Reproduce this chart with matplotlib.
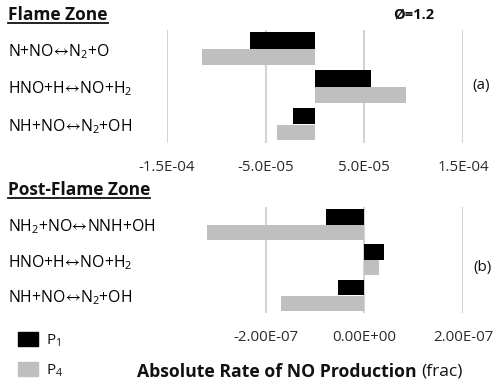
import matplotlib
matplotlib.use("Agg")
import matplotlib.pyplot as plt
from matplotlib.lines import Line2D
from matplotlib.patches import Patch

plt.rcParams['font.family'] = ['Open Sans', 'DejaVu Sans']
plt.rcParams['mathtext.fontset'] = 'custom'
plt.rcParams['mathtext.rm'] = 'Open Sans'
plt.rcParams['mathtext.it'] = 'Open Sans'
plt.rcParams['mathtext.bf'] = 'Open Sans:bold'
plt.rcParams['mathtext.fallback'] = 'stixsans'
plt.rcParams['text.color'] = '#111111'

# two-way arrow with the relation spacing trimmed
ARR = r'$\!\leftrightarrow\!$'

# flame zone (a)
flame_rxns = ['N+NO' + ARR + 'N$_2$+O', 'HNO+H' + ARR + 'NO+H$_2$', 'NH+NO' + ARR + 'N$_2$+OH']
flame_p1 = [-6.6e-5, 5.7e-5, -2.2e-5]
flame_p4 = [-1.15e-4, 9.2e-5, -3.9e-5]
flame_ticks = [-1.5e-4, -5e-5, 5e-5, 1.5e-4]
flame_ticklabels = ['-1.5E-04', '-5.0E-05', '5.0E-05', '1.5E-04']

# post-flame zone (b)
post_rxns = ['NH$_2$+NO' + ARR + 'NNH+OH', 'HNO+H' + ARR + 'NO+H$_2$', 'NH+NO' + ARR + 'N$_2$+OH']
post_p1 = [-7.8e-8, 4.0e-8, -5.4e-8]
post_p4 = [-3.18e-7, 3.0e-8, -1.69e-7]
post_ticks = [-2e-7, 0, 2e-7]
post_ticklabels = ['-2.00E-07', '0.00E+00', '2.00E-07']

BLACK = '#000000'
GREY = '#bfbfbf'
W = 500.0
H = 389.0

fig = plt.figure(figsize=(5.0, 3.89), dpi=100)
fig.patch.set_facecolor('white')


def panel(rect, rxns, p1, p4, ticks, ticklabels, xlim):
    ax = fig.add_axes(rect)
    ys = list(range(len(rxns)))
    ax.barh([y - 0.22 for y in ys], p1, height=0.44, color=BLACK, zorder=3)
    ax.barh([y + 0.22 for y in ys], p4, height=0.42, color=GREY, zorder=3)
    ax.set_xlim(*xlim)
    ax.set_ylim(2.5, -0.5)
    ax.set_xticks(ticks)
    ax.set_xticklabels(ticklabels, fontsize=10.8, color='#2a2a2a')
    ax.tick_params(axis='x', length=0, pad=12)
    ax.set_yticks(ys)
    ax.set_yticklabels(rxns, fontsize=11.3, ha='left')
    ax.tick_params(axis='y', length=0, pad=(rect[0] * W - 8) * 0.72)
    for s in ax.spines.values():
        s.set_visible(False)
    ax.grid(axis='x', color='#d4d4d4', linewidth=1.5, zorder=0)
    ax.set_axisbelow(True)
    return ax


ax_a = panel([167 / W, 1 - 143 / H, 296 / W, 113 / H],
             flame_rxns, flame_p1, flame_p4, flame_ticks, flame_ticklabels,
             (-1.5e-4, 1.5e-4))
ax_b = panel([167 / W, 1 - 313 / H, 296 / W, 106 / H],
             post_rxns, post_p1, post_p4, post_ticks, post_ticklabels,
             (-4e-7, 2e-7))

# headings, underlined
t1 = fig.text(8 / W, 1 - 15 / H, 'Flame Zone', fontsize=12.5, fontweight='bold',
              ha='left', va='center')
t2 = fig.text(8 / W, 1 - 190 / H, 'Post-Flame Zone', fontsize=12.5, fontweight='bold',
              ha='left', va='center')
fig.text(414 / W, 1 - 15 / H, 'Ø=1.2', fontsize=10.5, fontweight='bold',
         ha='center', va='center')
fig.text(481 / W, 1 - 86 / H, '(a)', fontsize=11, ha='center', va='center')
fig.text(482 / W, 1 - 268 / H, '(b)', fontsize=11, ha='center', va='center')

fig.text(137 / W, 1 - 372 / H, 'Absolute Rate of NO Production', fontsize=12.7,
         fontweight='bold', ha='left', va='center')
fig.text(463 / W, 1 - 372 / H, '(frac)', fontsize=12.5, ha='right', va='center')

fig.legend(handles=[Patch(color=BLACK, label='P$_1$'), Patch(color=GREY, label='P$_4$')],
           loc='upper left', bbox_to_anchor=(6 / W, 1 - 320 / H), frameon=False,
           fontsize=11, handlelength=1.3, handleheight=1.05, labelspacing=0.85,
           handletextpad=0.55, borderpad=0.3)

fig.canvas.draw()
r = fig.canvas.get_renderer()
for t in (t1, t2):
    bb = t.get_window_extent(r)
    y = bb.y0 + 1
    fig.add_artist(Line2D([bb.x0 / W, bb.x1 / W], [y / H] * 2, color='#111111',
                          linewidth=1.3, transform=fig.transFigure))

fig.savefig('out.png', dpi=100)
